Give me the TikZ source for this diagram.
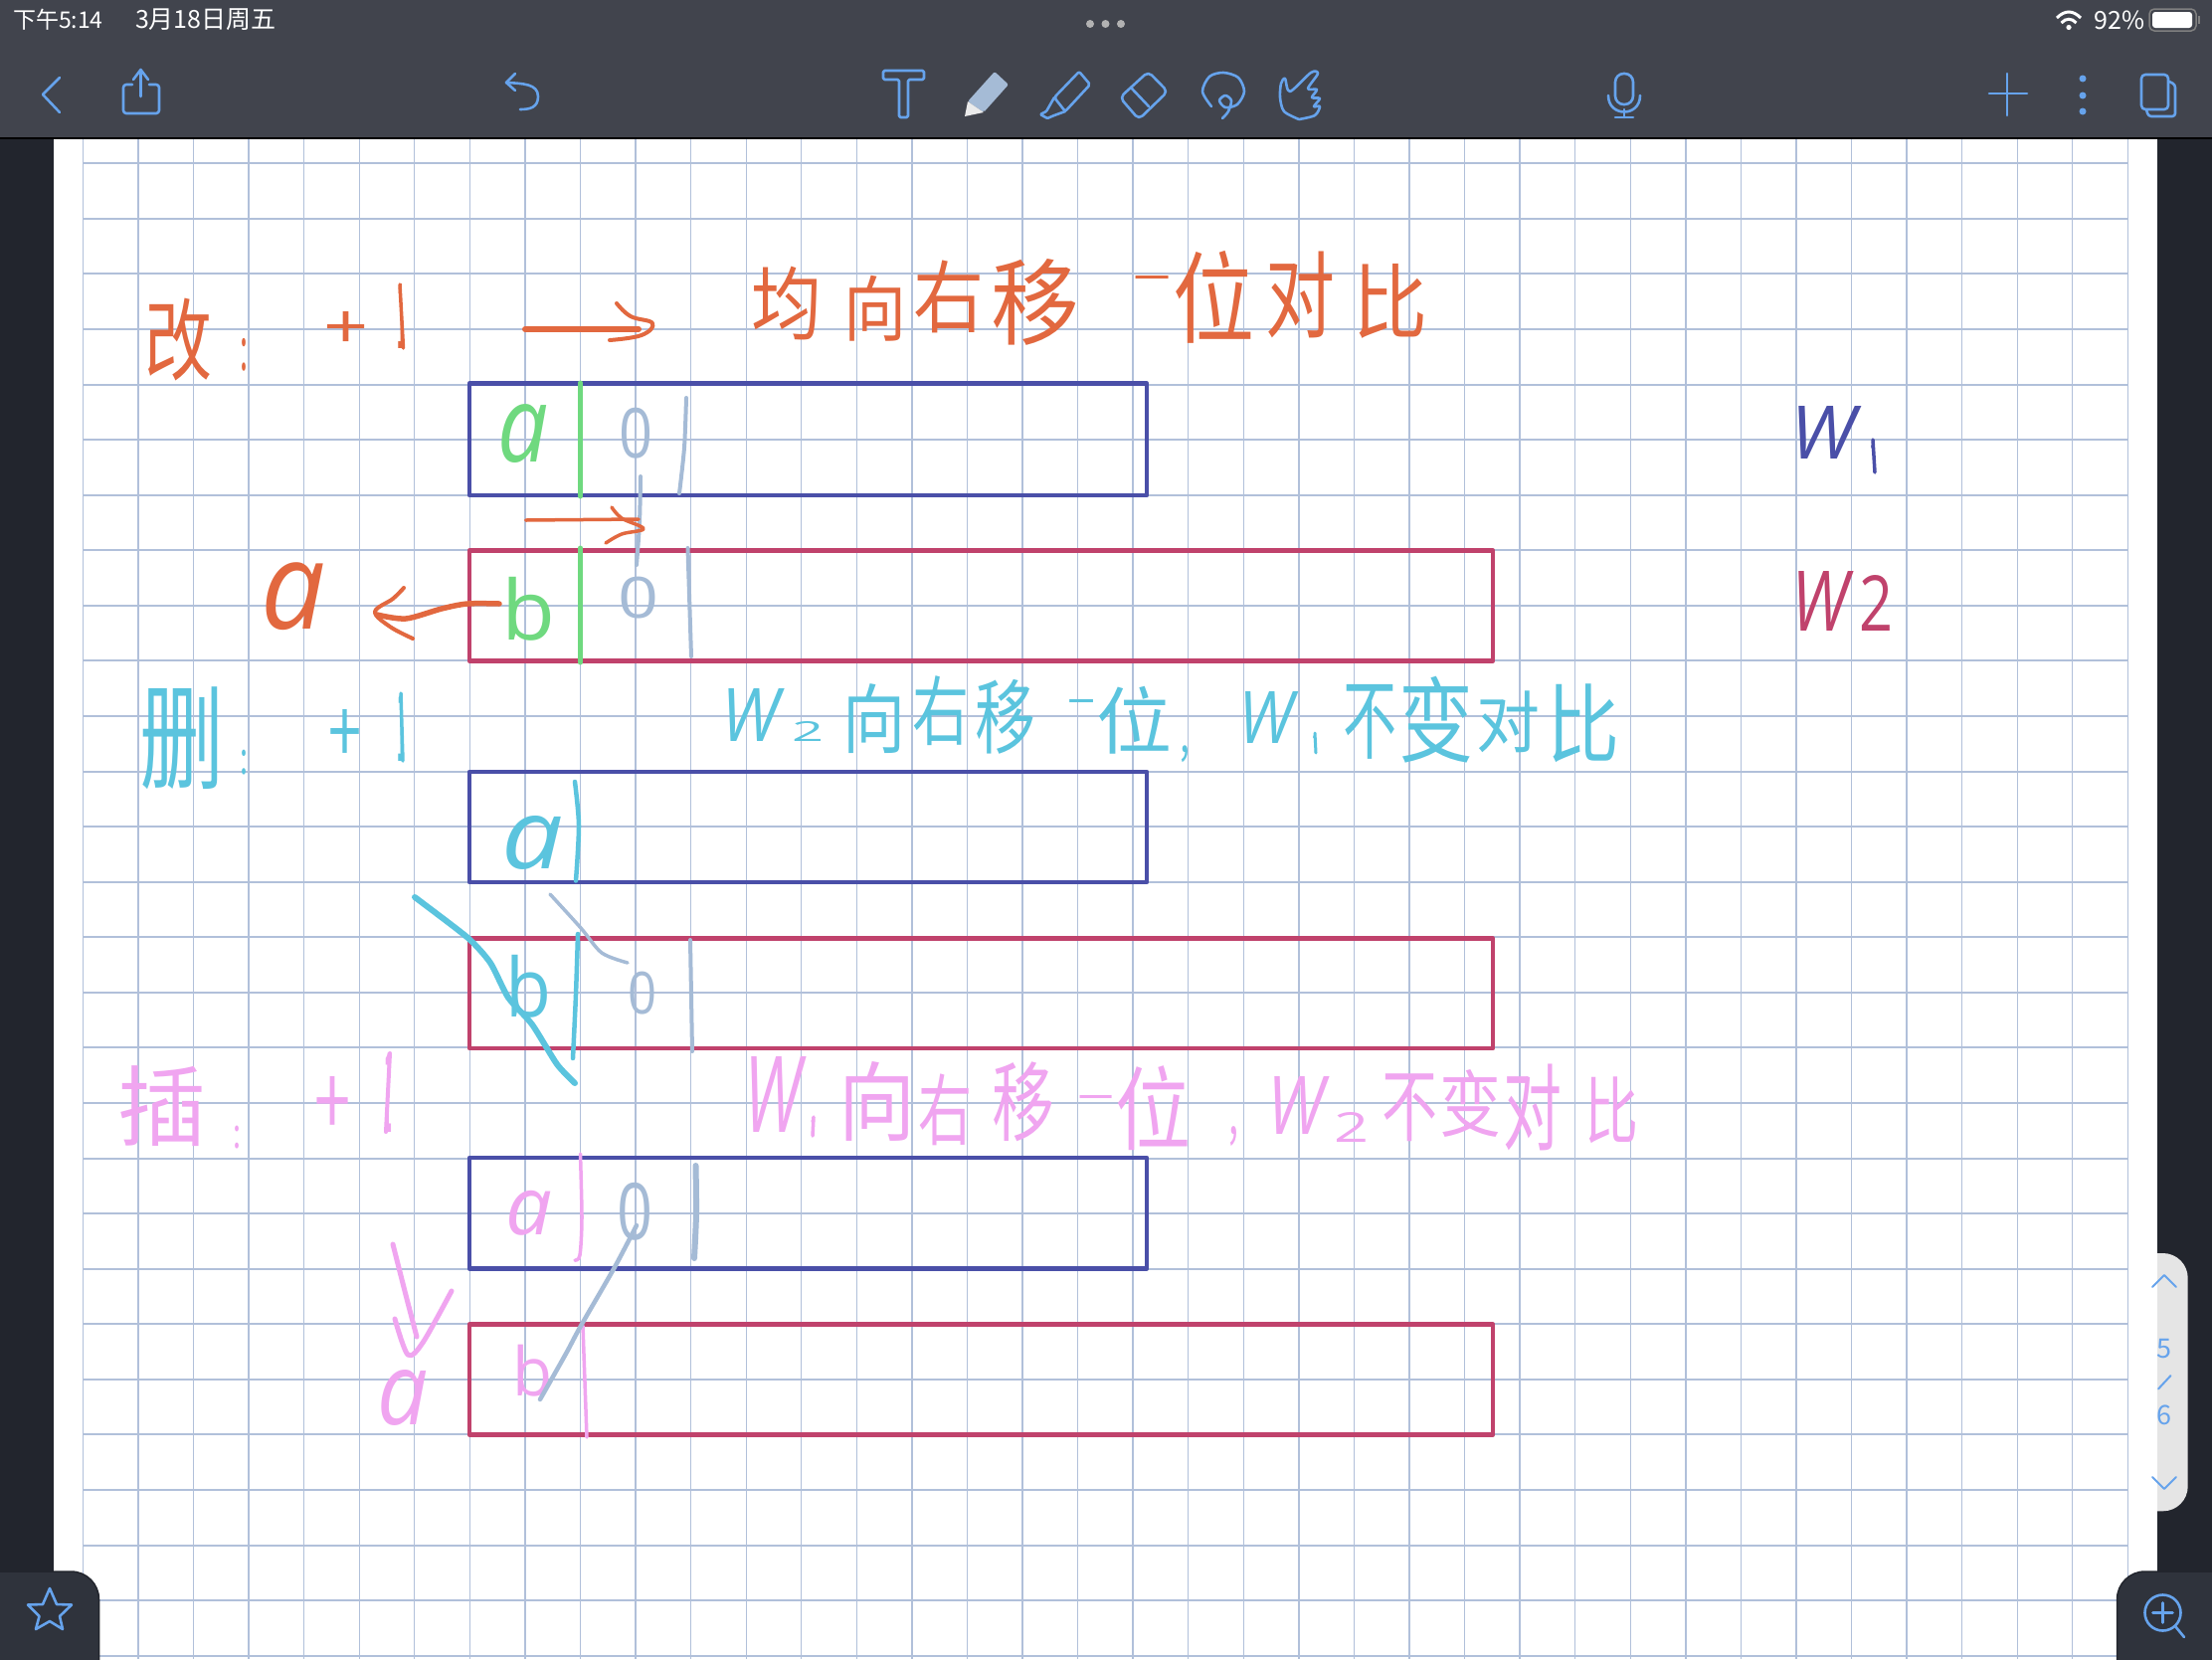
\documentclass[tikz,border=0pt]{standalone}
\usepackage{graphicx}
\usepackage{fontspec}
\setmainfont{Noto Sans CJK SC}
\newfontfamily\cjkink{Noto Sans CJK SC}
\newfontfamily\uifont{Noto Sans CJK SC}
\newfontfamily\latinink{Open Sans}
\definecolor{inkO}{HTML}{E2683F}
\definecolor{inkC}{HTML}{5BC4DE}
\definecolor{inkP}{HTML}{F0A5F0}
\definecolor{inkG}{HTML}{6FD97F}
\definecolor{inkS}{HTML}{A5BBD6}
\definecolor{boxB}{HTML}{4A4FA8}
\definecolor{boxR}{HTML}{C0426C}
\definecolor{iconB}{HTML}{66A3EC}
\definecolor{barC}{HTML}{41444D}
\definecolor{sideC}{HTML}{22252D}
\definecolor{panelC}{HTML}{2F333C}
\definecolor{gridC}{HTML}{B1C0DA}
\tikzset{
  inknode/.style={inner sep=0pt,outer sep=0pt,anchor=center},
  gridh/.style={draw=gridC,line width=1.9pt},
  gridv/.style={draw=gridC,line width=1.3pt},
  wboxb/.style={draw=boxB,line width=4.6pt,line join=round},
  wboxr/.style={draw=boxR,line width=4.6pt,line join=round},
  pen/.style={line cap=round,line join=round,line width=#1},
  pen/.default=4pt,
  ico/.style={draw=iconB,line width=2.6pt,line cap=round,line join=round},
  statustext/.style={inner sep=0pt,outer sep=0pt,text=white,font=\uifont\fontsize{23}{23}\selectfont},
  pagenum/.style={inner sep=0pt,outer sep=0pt,text=iconB,font=\uifont\fontsize{27}{27}\selectfont}
}
% name, colour, x1,y1,x2,y2, text : text fitted in the box
\newcommand{\ink}[7]{%
  \pgfmathsetmacro{\inkw}{#5-#3}\pgfmathsetmacro{\inkh}{#6-#4}%
  \pgfmathsetmacro{\inkx}{(#3+#5)/2}\pgfmathsetmacro{\inky}{(#4+#6)/2}%
  \node[inknode,text=#2] (#1) at (\inkx,\inky) {\resizebox*{\inkw pt}{\inkh pt}{\fontsize{60}{60}\selectfont #7}};%
}
\begin{document}
\begin{tikzpicture}[x=1pt,y=-1pt]
\useasboundingbox (0,0) rectangle (2224,1668);
% background
\fill[sideC] (0,0) rectangle (2224,1668);
\fill[rounded corners=25pt,fill=black!10] (2100,1260) rectangle (2199.7,1519.3);
\fill[white] (54,139) rectangle (2169,1668);
% grid
\foreach \k in {0,...,27}{\draw[gridh] (83.3,{164.3+55.57*\k}) -- (2139.7,{164.3+55.57*\k});}
\foreach \k in {0,...,37}{\draw[gridv] ({83.3+55.57*\k},139) -- ({83.3+55.57*\k},1668);}
% toolbar
\fill[barC] (0,0) rectangle (2224,139);
\draw[black,line width=1.2pt] (0,139) -- (2224,139);
% word boxes
\draw[wboxb] (472,385.5) rectangle (1153,498);
\draw[wboxr] (472,553.5) rectangle (1501,664.5);
\draw[wboxb] (472,776) rectangle (1153,887);
\draw[wboxr] (472,943.5) rectangle (1501,1054);
\draw[wboxb] (472,1164) rectangle (1153,1275.5);
\draw[wboxr] (472,1331.5) rectangle (1501,1442.5);

% ---------- row 1, orange
\ink{gai}{inkO}{145}{300}{213}{383}{\cjkink 改}
\ink{gaic}{inkO}{241}{340}{249}{373}{\cjkink :}
\ink{plusa}{inkO}{326}{313}{369}{350}{\cjkink +}
\ink{onea}{inkO}{399}{285}{407}{350}{\cjkink 1}
\draw[inkO,pen=3.5pt] (402,286) -- (405.5,350);
\draw[inkO,pen=6pt] (528,331) -- (642,331);
\draw[inkO,pen=4pt] plot[smooth,tension=.7] coordinates {(620,305) (634,318) (656,325) (645,337) (613,342)};
\ink{ta}{inkO}{755}{268}{826}{342}{\cjkink 均}
\ink{tb}{inkO}{848}{277}{911}{343}{\cjkink 向}
\ink{tc}{inkO}{918}{262}{989}{335}{\cjkink 右}
\ink{td}{inkO}{996}{260}{1085}{347}{\cjkink 移}
\ink{te}{inkO}{1140}{277}{1176}{293}{\cjkink 一}
\ink{tf}{inkO}{1179}{252}{1261}{345}{\cjkink 位}
\ink{tg}{inkO}{1272}{253}{1342}{340}{\cjkink 对}
\ink{th}{inkO}{1360}{265}{1435}{340}{\cjkink 比}
% cells row 1
\ink{ca}{inkG}{500}{407}{551}{466}{\latinink\itshape a}
\draw[inkG,pen=5pt] (583.5,385) -- (583.5,499);
\ink{cz}{inkS}{622}{410}{656}{461}{\latinink 0}
\draw[inkS,pen=4pt] plot[smooth] coordinates {(690,400) (688,450) (683,496)};
\draw[inkS,pen=4pt] plot[smooth] coordinates {(644,479) (643,525) (640,568)};
\draw[inkO,pen=3.5pt] (528.6,523) -- (642,522);
\draw[inkO,pen=3.5pt] plot[smooth,tension=.6] coordinates {(615,510) (625,521) (647,531.6) (625,537) (609,546)};
\ink{cb}{inkG}{504}{580}{558}{644}{\latinink b}
\draw[inkG,pen=5pt] (583.5,551) -- (583.5,666);
\ink{czb}{inkS}{621}{580}{662}{622}{\latinink 0}
\draw[inkS,pen=4pt] (691.5,551) -- (695,660);
\ink{oa}{inkO}{263}{566}{328}{634}{\latinink\itshape a}
\draw[inkO,pen=5.5pt] plot[smooth] coordinates {(502,607) (470,607) (444,612) (408,622) (379,618)};
\draw[inkO,pen=4pt] plot[smooth,tension=.6] coordinates {(406,591) (395,602) (377,615) (392,630) (415,642)};
% labels right
\ink{wa}{boxB}{1800}{408}{1865}{461}{\latinink\itshape W}
\ink{wb}{boxB}{1880}{442}{1887}{475}{\latinink 1}
\draw[boxB,pen=3.5pt] (1883,442) -- (1885,475);
\ink{wc}{boxR}{1801}{574}{1858}{634}{\latinink\itshape W}
\ink{wd}{boxR}{1869}{578}{1903}{634}{\latinink 2}

% ---------- row 2, cyan
\ink{shan}{inkC}{140}{691}{225}{794}{\cjkink 删}
\ink{shanc}{inkC}{241}{754}{249}{779}{\cjkink :}
\ink{plusb}{inkC}{330}{713}{363}{767}{\cjkink +}
\ink{oneb}{inkC}{399}{696}{407}{765}{\cjkink 1}
\draw[inkC,pen=3.5pt] (403,697) -- (405,765);
\ink{ua}{inkC}{725}{692}{783}{745}{\latinink\itshape W}
\ink{ub}{inkC}{796}{725}{828}{745}{\latinink 2}
\ink{uc}{inkC}{847}{688}{910}{758}{\cjkink 向}
\ink{ud}{inkC}{917}{680}{974}{750}{\cjkink 右}
\ink{ue}{inkC}{980}{683}{1041}{758}{\cjkink 移}
\ink{uf}{inkC}{1074}{703}{1100}{719}{\cjkink 一}
\ink{ug}{inkC}{1102}{690}{1178}{758}{\cjkink 位}
\ink{uh}{inkC}{1186}{750}{1196}{767}{\cjkink ,}
\ink{ui}{inkC}{1245}{695}{1300}{747}{\latinink\itshape W}
\ink{uj}{inkC}{1319}{737}{1325}{757}{\latinink 1}
\draw[inkC,pen=3pt] (1322,737) -- (1323,757);
\ink{uk}{inkC}{1350}{688}{1404}{763}{\cjkink 不}
\ink{ul}{inkC}{1406}{680}{1481}{767}{\cjkink 变}
\ink{um}{inkC}{1484}{695}{1548}{757}{\cjkink 对}
\ink{un}{inkC}{1555}{688}{1628}{767}{\cjkink 比}
% cells row 2
\ink{da}{inkC}{504}{820}{566}{874}{\latinink\itshape a}
\draw[inkC,pen=4.5pt] plot[smooth] coordinates {(578,786) (582,830) (579,885.5)};
\draw[inkS,pen=3.5pt] plot[smooth] coordinates {(553,899) (584,933) (605,958) (631,968)};
\ink{db}{inkC}{508}{960}{554}{1023}{\latinink b}
\draw[inkC,pen=4.5pt] plot[smooth] coordinates {(581,939) (579,1000) (576,1064)};
\ink{dz}{inkS}{631}{977}{660}{1020}{\latinink 0}
\draw[inkS,pen=4pt] (694,945) -- (696,1057);
\draw[inkC,pen=6pt] plot[smooth,tension=.4] coordinates {(417,902) (425,908) (470.5,943) (493,968) (511,1003) (535,1030) (560,1070) (578,1089)};

% ---------- row 3, pink
\ink{cha}{inkP}{118}{1072}{207}{1153}{\cjkink 插}
\ink{chac}{inkP}{234}{1132}{242}{1155}{\cjkink :}
\ink{plusc}{inkP}{316}{1082}{352}{1142}{\cjkink +}
\ink{onec}{inkP}{386}{1058}{394}{1138}{\cjkink 1}
\draw[inkP,pen=4pt] (392,1059) -- (388,1138);
\ink{va}{inkP}{748}{1062}{805}{1138}{\latinink\itshape W}
\ink{vb}{inkP}{814}{1123}{822}{1142}{\latinink 1}
\draw[inkP,pen=3.5pt] (818,1123) -- (817,1142);
\ink{vc}{inkP}{843}{1067}{920}{1147}{\cjkink 向}
\ink{vd}{inkP}{923}{1080}{977}{1152}{\cjkink 右}
\ink{ve}{inkP}{997}{1068}{1060}{1148}{\cjkink 移}
\ink{vf}{inkP}{1084}{1101}{1119}{1117}{\cjkink 一}
\ink{vg}{inkP}{1121}{1072}{1197}{1157}{\cjkink 位}
\ink{vh}{inkP}{1235}{1133}{1245}{1153}{\cjkink ,}
\ink{vi}{inkP}{1274}{1082}{1331}{1140}{\latinink\itshape W}
\ink{vj}{inkP}{1341}{1118}{1376}{1148}{\latinink 2}
\ink{vk}{inkP}{1389}{1080}{1445}{1148}{\cjkink 不}
\ink{vl}{inkP}{1447}{1075}{1509}{1143}{\cjkink 变}
\ink{vm}{inkP}{1511}{1070}{1570}{1157}{\cjkink 对}
\ink{vn}{inkP}{1593}{1083}{1647}{1150}{\cjkink 比}
% cells row 3
\ink{ea}{inkP}{508}{1197}{555}{1242}{\latinink\itshape a}
\draw[inkP,pen=3.5pt] plot[smooth] coordinates {(583.5,1160) (585,1225) (583,1262) (578,1267)};
\ink{ez}{inkS}{620}{1189}{656}{1247}{\latinink 0}
\draw[inkS,pen=6pt] plot[smooth] coordinates {(699.5,1172) (700,1220) (698,1265)};
\ink{eb}{inkP}{515}{1352}{555}{1404}{\latinink b}
\draw[inkP,pen=3.5pt] (586,1333) -- (590,1445);
\draw[inkS,pen=4.5pt] plot[smooth] coordinates {(640,1232) (618,1274) (584,1333) (569,1361) (543,1407)};
\draw[inkP,pen=5pt] plot[smooth] coordinates {(395,1251) (408,1302) (419,1344)};
\draw[inkP,pen=5pt] plot[smooth,tension=.5] coordinates {(397,1326) (410,1362) (425,1350) (454,1298)};
\ink{ec}{inkP}{379}{1377}{430}{1433}{\latinink\itshape a}

% ---------- status bar
\node[statustext,anchor=west] (clock) at (13,20) {下午5:14};
\node[statustext,anchor=west,font=\uifont\fontsize{25}{25}\selectfont] (datetext) at (136,20) {3月18日周五};
\node[statustext,anchor=east,font=\uifont\fontsize{25}{25}\selectfont] (batt) at (2156,20) {92\%};
\fill[black!30] (1096,24) circle[radius=4];
\fill[black!30] (1111.5,24) circle[radius=4];
\fill[black!30] (1127,24) circle[radius=4];
\draw[white,line width=3pt] (2068,18) .. controls (2076,10) and (2084,10) .. (2092,18);
\draw[white,line width=3pt] (2072.5,23) .. controls (2077,18) and (2083,18) .. (2087.5,23);
\fill[white] (2080,27.5) circle[radius=2.6];
\draw[black!50,line width=1.5pt,rounded corners=5pt] (2161,9) rectangle (2208,31);
\fill[white,rounded corners=3pt] (2164,12) rectangle (2204,28);
\fill[black!50] (2210,16) rectangle (2212,24);

% ---------- toolbar icons
\draw[ico] (60,78) -- (43,95) -- (60,113);
\draw[ico,rounded corners=3pt] (133,85) -- (124,85) -- (124,114) -- (160,114) -- (160,85) -- (150,85);
\draw[ico] (141.5,97) -- (141.5,71);
\draw[ico] (134,80) -- (141.5,70) -- (149,80);
\draw[ico] (518,74) -- (509,83) -- (518,91);
\draw[ico] (509,83) .. controls (525,84) and (541,84) .. (541,97) .. controls (541,108) and (533,110) .. (523,110);
\draw[ico,rounded corners=1.5pt] (888,71) -- (929,71) -- (929,80) -- (913,80) -- (913,118) -- (904,118) -- (904,80) -- (888,80) -- cycle;
\fill[inkS,rounded corners=2pt] (1000,72) -- (1014,85) -- (989,113) -- (973,102) -- cycle;
\fill[black!8] (973,102) -- (989,113) -- (970,117) -- cycle;
\draw[ico,rounded corners=2pt] (1085,72) -- (1096,85) -- (1071,112) -- (1060,98) -- cycle;
\draw[ico,rounded corners=1pt] (1060,98) -- (1052,112) -- (1046,115) -- (1053,119) -- (1060,116) -- (1071,112);
\draw[ico,rounded corners=5pt] (1154.5,72) -- (1174,92) -- (1145,120) -- (1126,98) -- cycle;
\draw[ico] (1137,88) -- (1155,107);
\draw[ico] plot[smooth] coordinates {(1218,107) (1209,92) (1216,77) (1230,73) (1245,78) (1251,92) (1244,105) (1232,108) (1226,101) (1232,96) (1238,101) (1235,112) (1229,119)};
\draw[ico] plot[smooth,tension=.5] coordinates {(1306,120) (1291,112) (1287,98) (1288,84) (1292,79) (1297,92) (1318,73) (1325,74) (1315,89) (1324,90) (1319,98) (1327,99) (1321,107) (1327,107) (1322,116) (1306,120)};
\draw[ico,rounded corners=8.5pt] (1624,74) rectangle (1642,105);
\draw[ico] (1617,96) .. controls (1617,118) and (1649,118) .. (1649,96);
\draw[ico] (1633,110) -- (1633,118);
\draw[ico] (1624,118) -- (1642,118);
\draw[ico] (2018,74) -- (2018,116);
\draw[ico] (2000,94) -- (2038,94);
\fill[iconB] (2094,79) circle[radius=3.5];
\fill[iconB] (2094,96) circle[radius=3.5];
\fill[iconB] (2094,112) circle[radius=3.5];
\draw[ico,rounded corners=3pt] (2181,82) -- (2187,85) -- (2187,117) -- (2160,117) -- (2158,110);
\draw[ico,rounded corners=4pt] (2153,75) rectangle (2180,110);

% ---------- page indicator
\draw[ico,line width=2pt] (2164,1294) -- (2176,1282) -- (2188,1294);
\node[pagenum] (pfive) at (2176,1356) {5};
\draw[ico,line width=2pt] (2170,1396.5) -- (2182.5,1383);
\node[pagenum] (psix) at (2176,1423) {6};
\draw[ico,line width=2pt] (2164,1485) -- (2176,1497) -- (2188,1485);

% ---------- corner panels
\fill[panelC,draw=sideC,line width=1.5pt] (-2,1580) -- (71.5,1580) .. controls (87,1580) and (99.5,1592.5) .. (99.5,1608) -- (99.5,1670) -- (-2,1670) -- cycle;
\draw[ico] (50,1597) -- (57,1613) -- (72,1613.5) -- (60,1625) -- (63,1638) -- (50,1630) -- (36,1638) -- (39.5,1625) -- (28,1613.5) -- (43,1613) -- cycle;
\fill[panelC,draw=sideC,line width=1.5pt] (2226,1580) -- (2156.5,1580) .. controls (2141,1580) and (2128.5,1592.5) .. (2128.5,1608) -- (2128.5,1670) -- (2226,1670) -- cycle;
\draw[ico] (2174.5,1621.5) circle[radius=18];
\draw[ico] (2187,1635) -- (2196,1646);
\draw[ico] (2174.5,1611.5) -- (2174.5,1631.5);
\draw[ico] (2164.5,1621.5) -- (2184.5,1621.5);
\end{tikzpicture}
\end{document}
